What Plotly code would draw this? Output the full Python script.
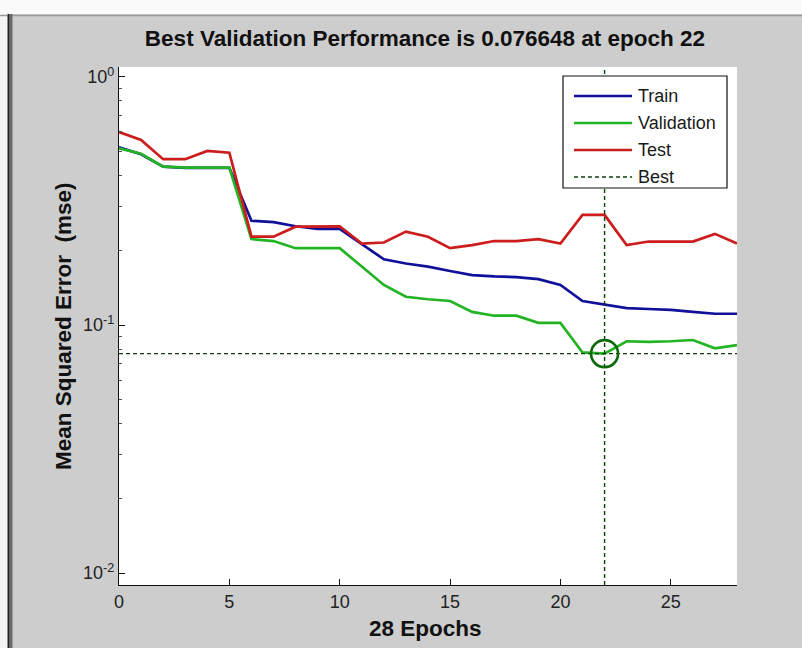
import plotly.graph_objects as go

# Training record: mean squared error per epoch
epochs = list(range(29))
train = [0.52, 0.488, 0.435, 0.43, 0.43, 0.43, 0.263, 0.26, 0.25, 0.244, 0.244,
         0.212, 0.184, 0.177, 0.172, 0.165, 0.159, 0.157, 0.156, 0.153, 0.145,
         0.125, 0.121, 0.117, 0.116, 0.115, 0.113, 0.111, 0.111]
validation = [0.515, 0.49, 0.435, 0.431, 0.431, 0.431, 0.222, 0.218, 0.204, 0.204,
              0.204, 0.172, 0.145, 0.13, 0.127, 0.125, 0.113, 0.109, 0.109, 0.102,
              0.102, 0.0775, 0.076648, 0.086, 0.0855, 0.086, 0.087, 0.0805, 0.083]
test = [0.60, 0.557, 0.466, 0.466, 0.503, 0.495, 0.227, 0.227, 0.249, 0.25, 0.25,
        0.213, 0.215, 0.238, 0.227, 0.204, 0.21, 0.218, 0.218, 0.222, 0.213,
        0.278, 0.278, 0.21, 0.217, 0.217, 0.217, 0.233, 0.213]
best_epoch = 22
best_perf = 0.076648

x_ticks = [0, 5, 10, 15, 20, 25]
y_ticks = [0.01, 0.1, 1]
y_ticktext = ["10<sup>-2</sup>", "10<sup>-1</sup>", "10<sup>0</sup>"]
y_minor = [k * 10.0 ** p for p in (-2, -1) for k in range(2, 10)]

series_names = ["Train", "Validation", "Test", "Best"]
series_colors = ["#10109a", "#22b422", "#cc1c1c", "#0f3f0f"]

X_RANGE = [0, 28]
Y_LOG_RANGE = [-2.048, 0.04]

W, H = 802, 648
L, R, T, B = 119, 737, 67, 585
FONT = "Arial, Liberation Sans, sans-serif"


def px(x):
    return (x - L) / (R - L)


def py(y):
    return (B - y) / (B - T)


fig = go.Figure()
for name, vals, col in zip(series_names[:3], [train, validation, test], series_colors[:3]):
    fig.add_trace(go.Scatter(x=epochs, y=vals, mode="lines", name=name,
                             line=dict(color=col, width=2.7), showlegend=False))

best_col = series_colors[3]
fig.add_trace(go.Scatter(x=X_RANGE, y=[best_perf, best_perf], mode="lines",
                         line=dict(color=best_col, width=1.4, dash="4px,3px"),
                         showlegend=False))
fig.add_trace(go.Scatter(x=[best_epoch, best_epoch],
                         y=[10 ** Y_LOG_RANGE[0], 10 ** Y_LOG_RANGE[1]], mode="lines",
                         line=dict(color=best_col, width=1.4, dash="4px,3px"),
                         showlegend=False))
fig.add_trace(go.Scatter(x=[best_epoch], y=[best_perf], mode="markers",
                         marker=dict(symbol="circle-open", size=27, color="#0b6a0b",
                                     line=dict(color="#0b6a0b", width=2.6)),
                         showlegend=False))

shapes = []
annotations = []

# window chrome
shapes.append(dict(type="rect", xref="paper", yref="paper", layer="below",
                   x0=px(0), x1=px(W), y0=py(14), y1=py(0),
                   fillcolor="#fafafa", line=dict(width=0)))
shapes.append(dict(type="line", xref="paper", yref="paper",
                   x0=px(0), x1=px(W), y0=py(15.5), y1=py(15.5),
                   line=dict(color="#9a9a9a", width=1.5)))
shapes.append(dict(type="rect", xref="paper", yref="paper", layer="below",
                   x0=px(0), x1=px(7), y0=py(H), y1=py(14),
                   fillcolor="#f4f4f4", line=dict(width=0)))
shapes.append(dict(type="rect", xref="paper", yref="paper",
                   x0=px(7.5), x1=px(12.5), y0=py(H), y1=py(14),
                   fillcolor="#6a6a6a", line=dict(width=0)))
shapes.append(dict(type="line", xref="paper", yref="paper",
                   x0=px(8.5), x1=px(8.5), y0=py(H), y1=py(14),
                   line=dict(color="#222222", width=1.2)))

# legend box
lx0, lx1, ly0, ly1 = 563, 727, 76, 188
shapes.append(dict(type="rect", xref="paper", yref="paper",
                   x0=px(lx0), x1=px(lx1), y0=py(ly1), y1=py(ly0),
                   fillcolor="white", line=dict(color="#111111", width=1.2)))
entry_y = [96, 123, 150, 177]
for i, (name, col) in enumerate(zip(series_names, series_colors)):
    yy = py(entry_y[i])
    if name == "Best":
        ln = dict(color=col, width=1.3, dash="4px,3px")
    else:
        ln = dict(color=col, width=2.7)
    shapes.append(dict(type="line", xref="paper", yref="paper",
                       x0=px(574), x1=px(632), y0=yy, y1=yy, line=ln))
    annotations.append(dict(text=name, xref="paper", yref="paper",
                            x=px(636), y=yy, xanchor="left", yanchor="middle",
                            showarrow=False, font=dict(family=FONT, size=18, color="#1a1a1a")))

# axis titles
annotations.append(dict(text="<b>Mean Squared Error  (mse)</b>", xref="paper", yref="paper",
                        x=px(63), y=py(326), textangle=-90, showarrow=False,
                        xanchor="center", yanchor="middle",
                        font=dict(family=FONT, size=22.5, color="#111111")))
annotations.append(dict(text="<b>28 Epochs</b>", xref="paper", yref="paper",
                        x=px(425), y=py(628), showarrow=False,
                        xanchor="center", yanchor="middle",
                        font=dict(family=FONT, size=22.5, color="#111111")))

fig.update_layout(
    width=W, height=H,
    margin=dict(l=L, r=W - R, t=T, b=H - B, pad=0),
    paper_bgcolor="#cdcdcd",
    plot_bgcolor="white",
    title=dict(text="<b>Best Validation Performance is 0.076648 at epoch 22</b>",
               x=px(425), xref="paper", xanchor="center",
               y=1 - 38 / H, yref="container", yanchor="middle",
               font=dict(family=FONT, size=22.5, color="#111111")),
    xaxis=dict(range=X_RANGE, tickvals=x_ticks, ticks="inside", ticklen=6,
               tickcolor="#111111", showline=True, linecolor="#111111", linewidth=1.3,
               showgrid=False, zeroline=False, mirror=False,
               tickfont=dict(family=FONT, size=18, color="#222222")),
    yaxis=dict(type="log", range=Y_LOG_RANGE, tickvals=y_ticks, ticktext=y_ticktext,
               ticks="inside", ticklen=6, tickcolor="#111111", showline=True,
               linecolor="#111111", linewidth=1.3, showgrid=False, zeroline=False,
               mirror=False, tickfont=dict(family=FONT, size=18, color="#222222"),
               minor=dict(tickvals=y_minor, ticks="inside", ticklen=3,
                          tickcolor="#555555", showgrid=False)),
    shapes=shapes,
    annotations=annotations,
    showlegend=False,
)

fig.write_html("out.html")
